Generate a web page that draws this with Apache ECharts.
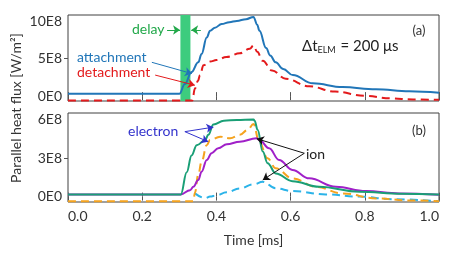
<!DOCTYPE html>
<html>
<head>
<meta charset="utf-8">
<script src="https://cdn.jsdelivr.net/npm/echarts@6/dist/echarts.min.js"></script>
<style>
  html, body { margin: 0; padding: 0; background: #fff; }
  #chart { width: 452px; height: 260px; }
</style>
</head>
<body>
<div id="chart"></div>
<script>
// values are in units of 1E8 W/m^2, time in ms
const xTicks = [0, 0.2, 0.4, 0.6, 0.8, 1.0];
const topTicks = [0, 5, 10];
const bottomTicks = [0, 3, 6];

// (a) attachment / detachment
const attachT = [0, 0.30, 0.315, 0.333, 0.351, 0.36, 0.374, 0.383, 0.396, 0.414, 0.435, 0.455, 0.48, 0.50, 0.51, 0.516, 0.534, 0.545, 0.56, 0.58, 0.606, 0.66, 0.74, 0.83, 0.92, 1.0];
const attachV = [0.3, 0.3, 1.6, 3.2, 4.5, 5.6, 7.8, 8.7, 9.1, 9.6, 9.85, 10.0, 10.25, 10.55, 9.5, 8.7, 6.4, 5.4, 4.5, 3.6, 2.8, 1.7, 1.2, 0.9, 0.65, 0.45];
const detachT = [0, 0.335, 0.342, 0.35, 0.356, 0.365, 0.383, 0.40, 0.427, 0.463, 0.49, 0.50, 0.51, 0.525, 0.55, 0.587, 0.65, 0.72, 0.80, 0.87, 0.93, 1.0];
const detachV = [-0.58, -0.58, 1.0, 2.0, 2.8, 4.1, 4.6, 4.8, 5.2, 5.7, 6.3, 6.75, 5.9, 4.7, 3.4, 2.3, 1.3, 0.6, 0.05, -0.3, -0.45, -0.5];

// (b) electron / ion, attached (solid) and detached (dashed)
const elecAttT = [0, 0.304, 0.32, 0.333, 0.347, 0.37, 0.378, 0.392, 0.42, 0.455, 0.50, 0.503, 0.511, 0.525, 0.538, 0.56, 0.605, 0.677, 0.785, 0.9, 1.0];
const elecAttV = [0.17, 0.17, 1.9, 3.2, 4.0, 4.4, 4.8, 5.6, 5.9, 5.96, 6.0, 5.9, 5.2, 3.5, 2.6, 1.8, 1.2, 0.76, 0.37, 0.22, 0.17];
const ionAttT = [0, 0.304, 0.329, 0.338, 0.351, 0.36, 0.374, 0.387, 0.405, 0.428, 0.463, 0.508, 0.516, 0.542, 0.569, 0.605, 0.65, 0.722, 0.803, 0.893, 1.0];
const ionAttV = [0.17, 0.17, 0.5, 0.76, 1.29, 1.93, 2.85, 3.37, 3.76, 4.07, 4.27, 4.54, 4.4, 3.76, 2.85, 2.07, 1.42, 0.76, 0.43, 0.25, 0.15];
const elecDetT = [0, 0.338, 0.342, 0.351, 0.36, 0.374, 0.383, 0.41, 0.437, 0.463, 0.485, 0.50, 0.515, 0.538, 0.56, 0.605, 0.668, 0.74, 0.83, 0.92, 1.0];
const elecDetV = [-0.36, -0.36, 0.3, 1.7, 2.7, 4.0, 4.4, 4.66, 4.54, 4.8, 5.2, 5.65, 4.27, 2.98, 2.2, 1.42, 0.76, 0.25, -0.14, -0.3, -0.36];
const ionDetT = [0.342, 0.37, 0.383, 0.40, 0.427, 0.463, 0.50, 0.525, 0.56, 0.605, 0.695, 0.785, 0.875, 1.0];
const ionDetV = [0.25, -0.12, 0.0, 0.1, 0.33, 0.64, 0.95, 1.15, 0.64, 0.43, 0.17, 0.0, -0.2, -0.36];

const delayBand = [0.303, 0.33];

const font = 'Lato';
const pairs = (t, v) => t.map((x, i) => [x, v[i]]);
const yFmt = v => v === 0 ? '0E0' : v + 'E8';

const chart = echarts.init(document.getElementById('chart'), null, { renderer: 'canvas' });

function xAxes(grid, bottom) {
    return [
        {
            gridIndex: grid, type: 'value', min: 0, max: 1.0, interval: 0.2,
            position: 'bottom',
            name: bottom ? 'Time [ms]' : '', nameLocation: 'middle', nameGap: 31,
            nameTextStyle: { fontFamily: font, fontSize: 14, color: '#333' },
            axisLine: { show: false },
            axisTick: { inside: true, length: 4, lineStyle: { color: '#555' } },
            axisLabel: {
                show: bottom, margin: 7, fontFamily: font, fontSize: 14, color: '#333',
                alignMinLabel: 'left', alignMaxLabel: 'right',
                customValues: xTicks, formatter: v => v.toFixed(1)
            },
            splitLine: { show: false }
        },
        {
            gridIndex: grid, type: 'value', min: 0, max: 1.0, interval: 0.2,
            position: 'top',
            axisLine: { show: false },
            axisTick: { inside: true, length: 4, lineStyle: { color: '#555' } },
            axisLabel: { show: false },
            splitLine: { show: false }
        }
    ];
}

function yAxes(grid, min, max, ticks) {
    return [
        {
            gridIndex: grid, type: 'value', min: min, max: max, position: 'left',
            axisLine: { show: false },
            axisTick: { show: true, length: 4, customValues: [ticks[1]], lineStyle: { color: '#555' } },
            axisLabel: { margin: 6, fontFamily: font, fontSize: 14, color: '#333', customValues: ticks, formatter: yFmt },
            splitLine: { show: false }
        },
        {
            gridIndex: grid, type: 'value', min: min, max: max, position: 'right',
            axisLine: { show: false },
            axisTick: { show: true, inside: true, length: 4, customValues: [ticks[1]], lineStyle: { color: '#555' } },
            axisLabel: { show: false },
            splitLine: { show: false }
        }
    ];
}

function line(name, t, v, color, dashed, xi, yi, extra) {
    return Object.assign({
        name: name, type: 'line', xAxisIndex: xi, yAxisIndex: yi,
        data: pairs(t, v), showSymbol: false, smooth: 0.4, smoothMonotone: 'x',
        lineStyle: { color: color, width: 2, type: dashed ? [8, 5] : 'solid' },
        itemStyle: { color: color }, z: 3
    }, extra || {});
}

function arrows(list) {
    return {
        silent: true, symbol: ['none', 'arrow'], symbolSize: 7, animation: false,
        label: { show: false },
        data: list.map(a => [
            { coord: a[0], lineStyle: { color: a[2], width: 1, type: 'solid' }, itemStyle: { color: a[2] } },
            { coord: a[1] }
        ])
    };
}

const option = {
    animation: false,
    grid: [
        { left: 68, right: 13, top: 15, height: 86, show: true, borderColor: '#404040', borderWidth: 1 },
        { left: 68, right: 13, top: 113, height: 89, show: true, borderColor: '#404040', borderWidth: 1 }
    ],
    xAxis: [...xAxes(0, false), ...xAxes(1, true)],
    yAxis: [...yAxes(0, -0.65, 10.8, topTicks), ...yAxes(1, -0.42, 6.5, bottomTicks)],
    series: [
        line('attachment', attachT, attachV, '#2176b8', false, 0, 0, {
            markArea: {
                silent: true, itemStyle: { color: '#3dcc7e' },
                data: [[{ xAxis: delayBand[0] }, { xAxis: delayBand[1] }]]
            },
            markLine: arrows([
                [[0.267, 8.8], [0.302, 8.8], '#22a84a'],
                [[0.358, 8.8], [0.332, 8.8], '#22a84a'],
                [[0.226, 4.5], [0.334, 3.0], '#2176b8']
            ])
        }),
        line('detachment', detachT, detachV, '#e31a1c', true, 0, 0, {
            markLine: arrows([[[0.235, 2.8], [0.342, 1.45], '#e31a1c']])
        }),
        line('ion detached', ionDetT, ionDetV, '#2bb3e8', true, 2, 2),
        line('electron detached', elecDetT, elecDetV, '#f5a31e', true, 2, 2),
        line('ion attached', ionAttT, ionAttV, '#a020c8', false, 2, 2, {
            markLine: arrows([
                [[0.637, 3.37], [0.509, 4.5], '#111'],
                [[0.637, 3.37], [0.525, 1.3], '#111']
            ])
        }),
        line('electron attached', elecAttT, elecAttV, '#1a9f76', false, 2, 2, {
            markLine: arrows([
                [[0.315, 5.05], [0.392, 5.4], '#3333cc'],
                [[0.315, 5.05], [0.378, 4.27], '#3333cc']
            ])
        })
    ],
    graphic: [
        { type: 'text', x: 16, y: 108, rotation: Math.PI / 2,
          style: { text: 'Parallel heat flux [W/m²]', fontFamily: font, fontSize: 14, fill: '#333', align: 'center', verticalAlign: 'middle' } },
        { type: 'text', x: 132, y: 29, style: { text: 'delay', fontFamily: font, fontSize: 14, fill: '#22a84a', verticalAlign: 'middle' } },
        { type: 'text', x: 77, y: 57, style: { text: 'attachment', fontFamily: font, fontSize: 14, fill: '#2176b8', verticalAlign: 'middle' } },
        { type: 'text', x: 77, y: 72, style: { text: 'detachment', fontFamily: font, fontSize: 14, fill: '#e31a1c', verticalAlign: 'middle' } },
        { type: 'text', x: 302, y: 46, style: {
            text: '{a|Δt}{s|ELM}{a| = 200 μs}', verticalAlign: 'middle',
            rich: {
                a: { fontFamily: font, fontSize: 15, fill: '#222' },
                s: { fontFamily: font, fontSize: 9, fill: '#222', padding: [9, 1, 0, 0] }
            } } },
        { type: 'text', x: 419, y: 31, style: { text: '(a)', fontFamily: font, fontSize: 13, fill: '#333', align: 'center', verticalAlign: 'middle' } },
        { type: 'text', x: 128, y: 131, style: { text: 'electron', fontFamily: font, fontSize: 14, fill: '#3333cc', verticalAlign: 'middle' } },
        { type: 'text', x: 306, y: 154, style: { text: 'ion', fontFamily: font, fontSize: 14, fill: '#222', verticalAlign: 'middle' } },
        { type: 'text', x: 419, y: 131, style: { text: '(b)', fontFamily: font, fontSize: 13, fill: '#333', align: 'center', verticalAlign: 'middle' } }
    ]
};

chart.setOption(option);
</script>
</body>
</html>
